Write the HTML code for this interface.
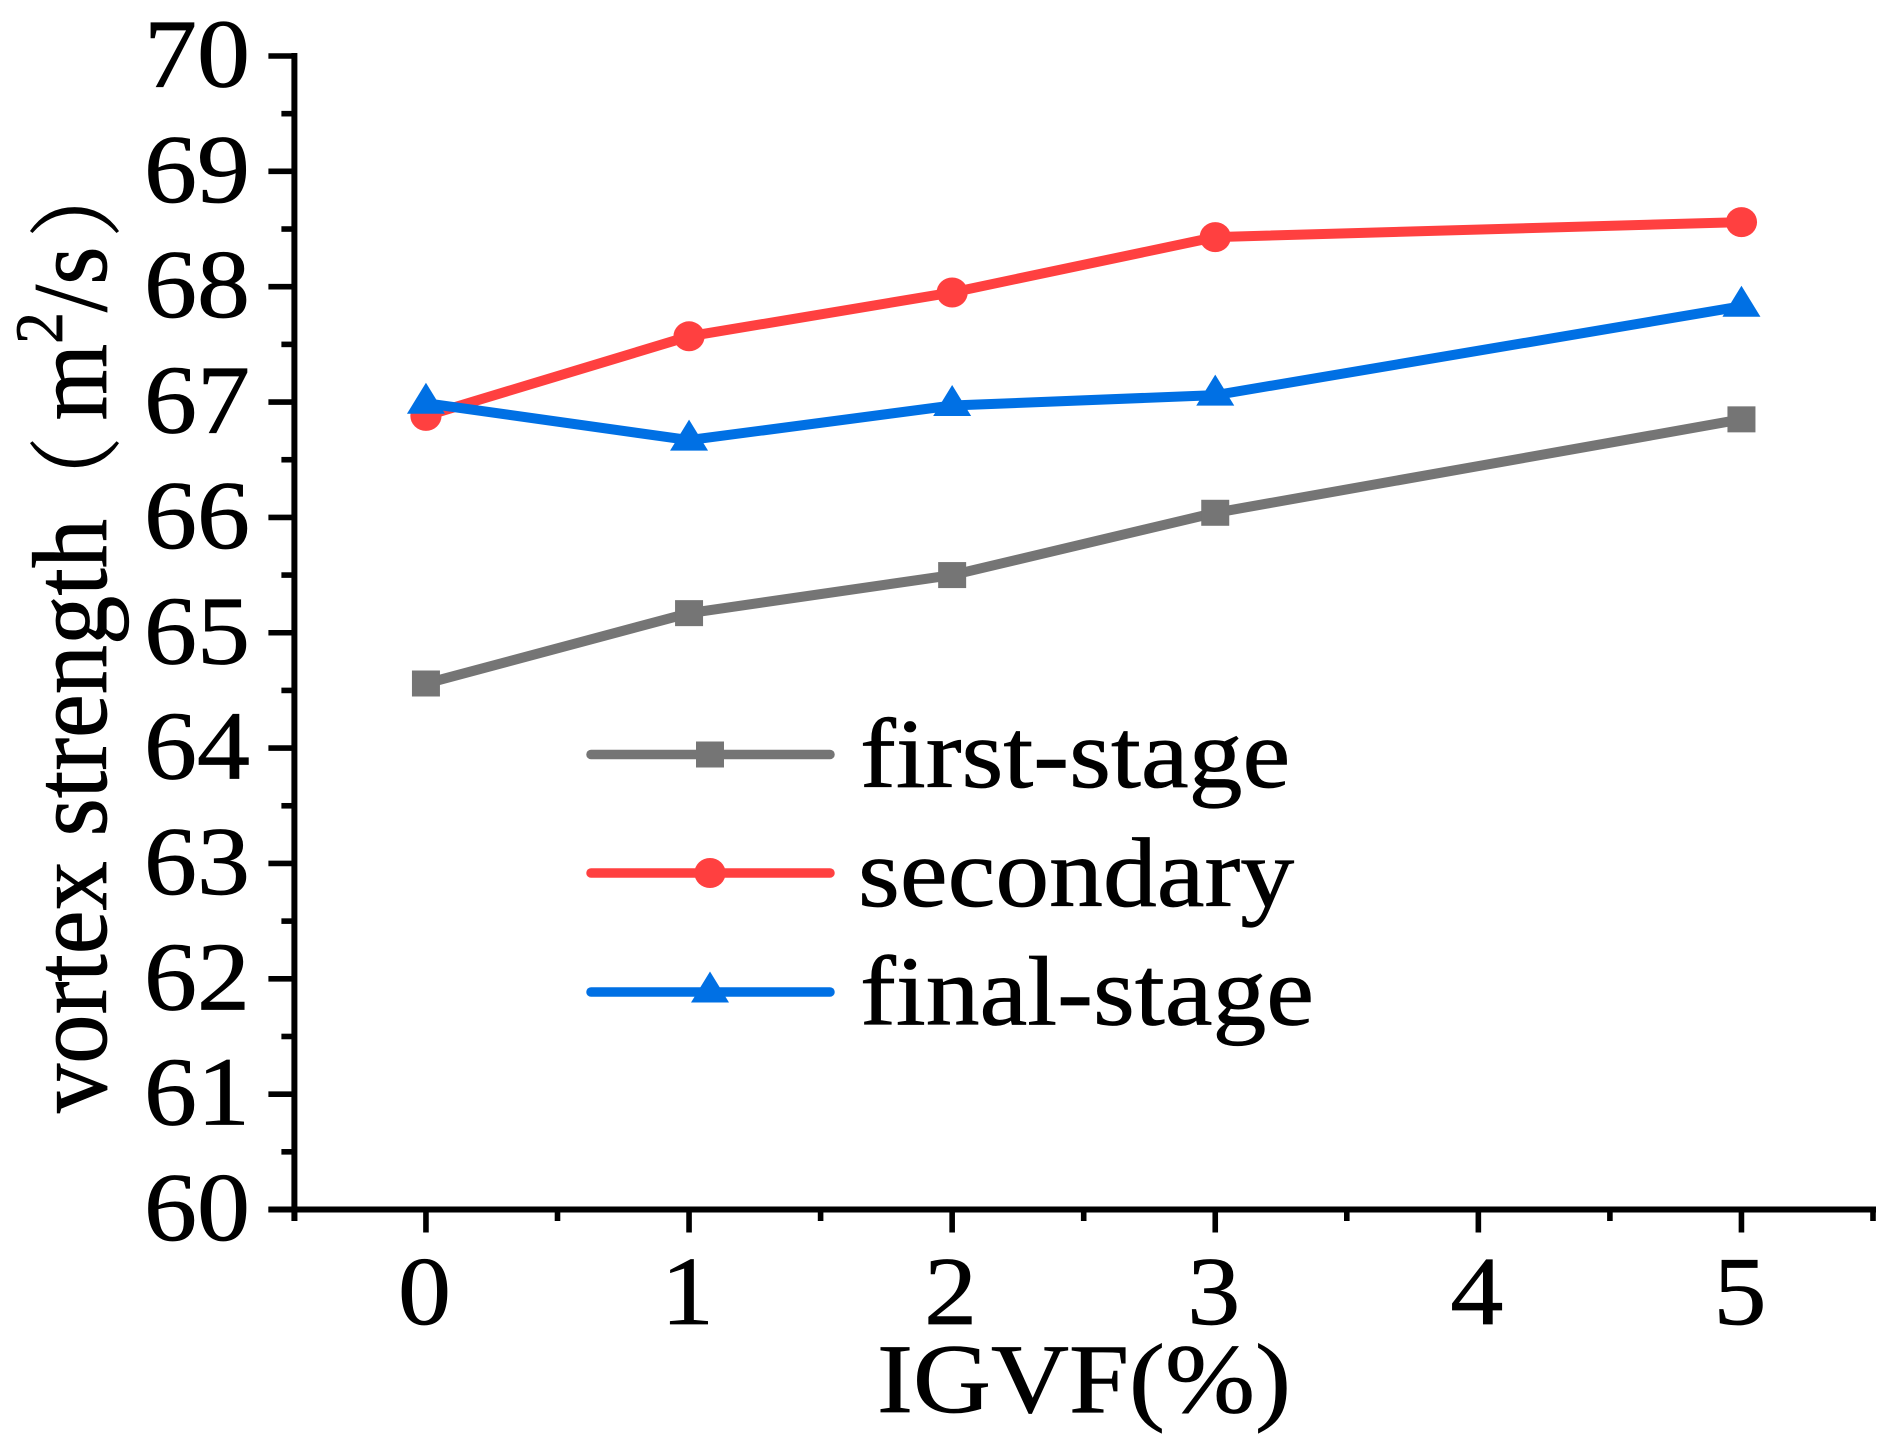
<!DOCTYPE html>
<html lang="en">
<head>
<meta charset="utf-8">
<title>Vortex strength vs IGVF</title>
<style>
html,body{margin:0;padding:0;background:#fff;}
svg{display:block;}
text{font-family:"Liberation Serif","Noto Serif CJK SC",serif;fill:#000;stroke:#000;stroke-width:0.8px;}
</style>
</head>
<body>
<svg id="chart" xmlns="http://www.w3.org/2000/svg" width="1896" height="1448" viewBox="0 0 1896 1448">
<rect x="0" y="0" width="1896" height="1448" fill="#fff"/>
<g id="axes"></g>
<g id="series"></g>
<g id="legend"></g>
<text transform="translate(1084,1412) scale(1,0.91)" font-size="108" text-anchor="middle">IGVF(%)</text>
<text transform="translate(106,1113) rotate(-90) scale(0.93,1)" font-size="106"><tspan>vortex strength</tspan><tspan font-size="94" dx="-5" dy="4">（</tspan><tspan dx="17" dy="-4">m</tspan><tspan font-size="68" dy="-44">2</tspan><tspan dy="44">/s</tspan><tspan font-size="94" dx="9" dy="4">）</tspan></text>
</svg>
<script>
const categories = [0, 1, 2, 3, 4, 5];
const seriesX = [0, 1, 2, 3, 5];
const firstStage = [64.56, 65.17, 65.5, 66.04, 66.85];
const secondary = [66.88, 67.57, 67.95, 68.43, 68.56];
const finalStage = [66.99, 66.67, 66.97, 67.06, 67.83];
const yTickLabels = [60, 61, 62, 63, 64, 65, 66, 67, 68, 69, 70];
const yMinorTicks = [60.5, 61.5, 62.5, 63.5, 64.5, 65.5, 66.5, 67.5, 68.5, 69.5];
const xMinorTicks = [-0.5, 0.5, 1.5, 2.5, 3.5, 4.5, 5.5];
const legendLabels = ['first-stage', 'secondary', 'final-stage'];

const NS = 'http://www.w3.org/2000/svg';
const plotLeft = 294.4, plotBottom = 1209.5, plotTop = 56, plotRight = 1873;
const textSquash = 0.92;
function xScale(v) { return plotLeft + (v + 0.5) * (plotRight - plotLeft) / 6; }
function yScale(v) { return plotBottom - (v - 60) * (plotBottom - plotTop) / 10; }
function make(tag, attrs, parent) {
  const el = document.createElementNS(NS, tag);
  for (const k in attrs) el.setAttribute(k, attrs[k]);
  parent.appendChild(el);
  return el;
}
const axes = document.getElementById('axes');
const seriesG = document.getElementById('series');
const legendG = document.getElementById('legend');

const yAxisLine = make('line', {x1: plotLeft, x2: plotLeft, y1: plotTop - 3, y2: plotBottom + 11.5, stroke: '#000', 'stroke-width': 6}, axes);


const xAxisLine = make('line', {x1: plotLeft - 26, x2: plotRight + 3, y1: plotBottom, y2: plotBottom, stroke: '#000', 'stroke-width': 6}, axes);



yTickLabels.forEach(function (v) {
  const t = make('line', {x1: plotLeft - 26, x2: plotLeft, y1: yScale(v), y2: yScale(v), stroke: '#000', 'stroke-width': 5.6}, axes);
  
  
  const l = make('text', {transform: 'translate(250,' + (yScale(v) + 30.5) + ') scale(1,' + textSquash + ')', 'font-size': 106, 'text-anchor': 'end'}, axes);
  
  
  l.textContent = String(v);
});
yMinorTicks.forEach(function (v) {
  const t = make('line', {x1: plotLeft - 13, x2: plotLeft, y1: yScale(v), y2: yScale(v), stroke: '#000', 'stroke-width': 5.6}, axes);
  
  
});
categories.forEach(function (v) {
  const t = make('line', {x1: xScale(v), x2: xScale(v), y1: plotBottom, y2: plotBottom + 23, stroke: '#000', 'stroke-width': 5.6}, axes);
  
  
  const l = make('text', {transform: 'translate(' + (xScale(v) - 1.5) + ',1324) scale(1,' + textSquash + ')', 'font-size': 106, 'text-anchor': 'middle'}, axes);
  
  
  l.textContent = String(v);
});
xMinorTicks.forEach(function (v) {
  const t = make('line', {x1: xScale(v), x2: xScale(v), y1: plotBottom, y2: plotBottom + 11.5, stroke: '#000', 'stroke-width': 5.6}, axes);
  
  
});

function drawMarker(kind, cx, cy, color, parent) {
  if (kind === 'square') {
    return make('rect', {x: cx - 14, y: cy - 13, width: 28, height: 26, fill: color}, parent);
  }
  if (kind === 'circle') {
    return make('ellipse', {cx: cx, cy: cy, rx: 15.6, ry: 15, fill: color}, parent);
  }
  const pts = [[cx, cy - 20.5], [cx + 19, cy + 10.5], [cx - 19, cy + 10.5]];
  return make('polygon', {points: pts.map(function (p) { return p.join(','); }).join(' '), fill: color}, parent);
}

const grayColor = '#757575', redColor = '#ff4040', blueColor = '#0070e4';

const lineFirst = make('polyline', {points: seriesX.map(function (x, i) { return xScale(x) + ',' + yScale(firstStage[i]); }).join(' '), fill: 'none', stroke: grayColor, 'stroke-width': 10}, seriesG);


seriesX.forEach(function (x, i) {
  const m = drawMarker('square', xScale(x), yScale(firstStage[i]), grayColor, seriesG);
  
  
});
const lineSecondary = make('polyline', {points: seriesX.map(function (x, i) { return xScale(x) + ',' + yScale(secondary[i]); }).join(' '), fill: 'none', stroke: redColor, 'stroke-width': 10}, seriesG);


seriesX.forEach(function (x, i) {
  const m = drawMarker('circle', xScale(x), yScale(secondary[i]), redColor, seriesG);
  
  
});
const lineFinal = make('polyline', {points: seriesX.map(function (x, i) { return xScale(x) + ',' + yScale(finalStage[i]); }).join(' '), fill: 'none', stroke: blueColor, 'stroke-width': 10}, seriesG);


seriesX.forEach(function (x, i) {
  const m = drawMarker('triangle', xScale(x), yScale(finalStage[i]), blueColor, seriesG);
  
  
});

const legendRowY = [754.5, 873, 992];
const legendTextY = [787, 906, 1024.5];
const legendKinds = ['square', 'circle', 'triangle'];
const legendColors = [grayColor, redColor, blueColor];
legendLabels.forEach(function (name, i) {
  const y = legendRowY[i];
  const row = make('g', {}, legendG);
  
  
  const s = make('line', {x1: 591, x2: 830, y1: y, y2: y, stroke: legendColors[i], 'stroke-width': 9.5, 'stroke-linecap': 'round'}, row);
  
  
  const m = drawMarker(legendKinds[i], 710, y, legendColors[i], row);
  
  
  const t = make('text', {transform: 'translate(' + (i === 1 ? 858 : 860) + ',' + legendTextY[i] + ') scale(1,' + textSquash + ')', 'font-size': 107.6}, row);
  
  
  t.textContent = name;
});
</script>
</body>
</html>
